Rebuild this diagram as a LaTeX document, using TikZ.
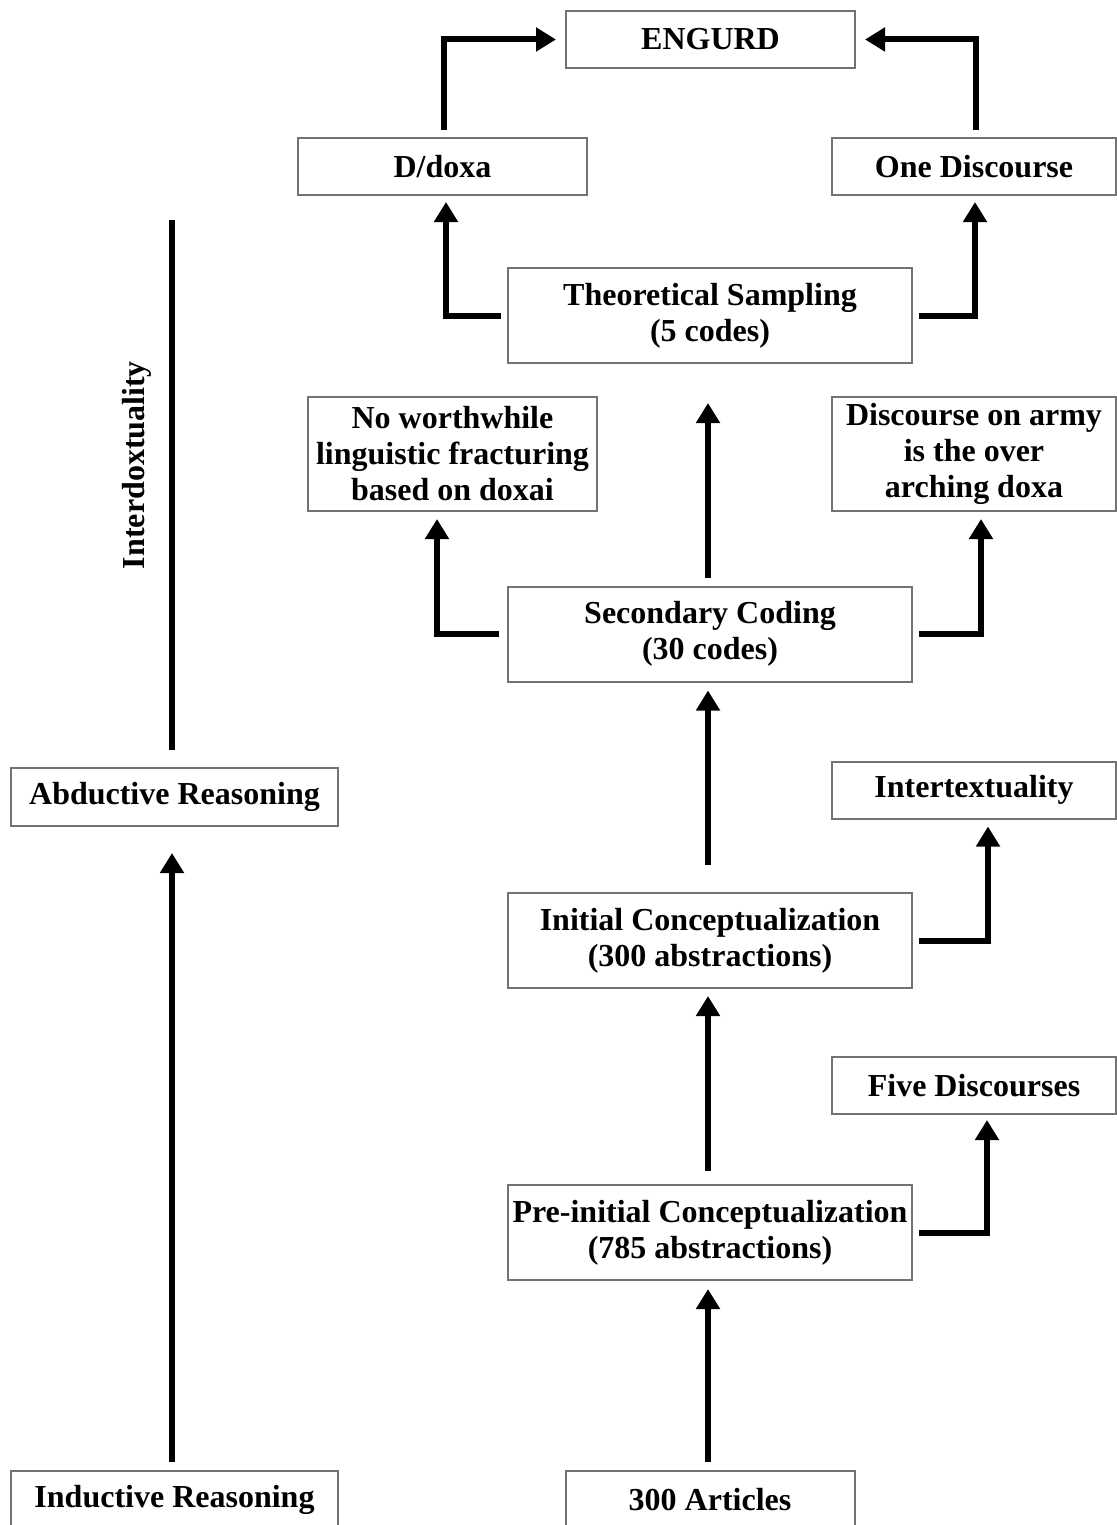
\documentclass[tikz,border=0pt]{standalone}
\usepackage{fontspec}
\setmainfont{Liberation Serif}
\usetikzlibrary{arrows.meta,calc}
\begin{document}
\begin{tikzpicture}[x=0.5pt,y=-0.5pt,
  box/.style={draw=black!55, line width=1pt, fill=white, align=center,
    inner sep=0pt, font=\fontsize{16}{18}\selectfont\bfseries},
  wide/.style={minimum width=202pt, minimum height=47.5pt},
  mid/.style={minimum width=144.5pt, minimum height=28.5pt},
  side/.style={minimum width=142pt, minimum height=28.5pt},
  tall/.style={minimum height=57pt},
  lbl/.style={font=\fontsize{16}{18}\selectfont\bfseries, inner sep=0pt},
  conn/.style={line width=3pt},
  arr/.style={conn, -{Triangle[length=10pt,width=11.5pt]}},
]
\useasboundingbox (0,0) rectangle (1117,1525);

% central column
\node[box, mid] (engurd) at (710.5,39.5) {ENGURD};
\node[box, wide] (theo) at (710,315.5) {Theoretical Sampling\\(5 codes)};
\node[box, wide] (sec) at (710,634) {Secondary Coding\\(30 codes)};
\node[box, wide] (init) at (710,940.5) {Initial Conceptualization\\(300 abstractions)};
\node[box, wide] (pre) at (710,1232.5) {Pre-initial Conceptualization\\(785 abstractions)};
\node[box, mid] (art) at (710,1499.5) {300 Articles};

% side outcomes
\node[box, mid] (ddoxa) at (442.5,166.5) {D/doxa};
\node[box, side] (onedis) at (974,166.5) {One Discourse};
\node[box, mid, tall] (nowort) at (452.5,454) {No worthwhile\\linguistic fracturing\\based on doxai};
\node[box, side, tall] (army) at (974,454) {Discourse on army\\is the over\\arching doxa};
\node[box, side] (intert) at (974,790) {Intertextuality};
\node[box, side] (five) at (974,1085.5) {Five Discourses};

% reasoning column
\node[box, minimum width=163.5pt, minimum height=29pt] (abd) at (174.5,797) {Abductive Reasoning};
\node[box, minimum width=163.5pt, minimum height=28.5pt] (ind) at (174.5,1499.5) {Inductive Reasoning};
\coordinate (itop) at (172,220);
\node[lbl, rotate=90] (interdox) at (137,465) {Interdoxtuality};

% main flow
\draw[arr] ([xshift=-1pt,yshift=4pt]art.north) -- ([xshift=-1pt,yshift=-4pt]pre.south);
\draw[arr] ([xshift=-1pt,yshift=6.5pt]pre.north) -- ([xshift=-1pt,yshift=-3.5pt]init.south);
\draw[arr] ([xshift=-1pt,yshift=13.5pt]init.north) -- ([xshift=-1pt,yshift=-4pt]sec.south);
\draw[arr] ([xshift=-1pt,yshift=4pt]sec.north) -- ([xshift=-1pt,yshift=-19.5pt]theo.south);

% branches
\draw[arr] ([xshift=3pt]pre.east) -| ([xshift=6.5pt,yshift=-2.5pt]five.south);
\draw[arr] ([xshift=3pt]init.east) -| ([xshift=7pt,yshift=-3.5pt]intert.south);
\draw[arr] ([xshift=-4pt]sec.west) -| ([xshift=-7.75pt,yshift=-3.5pt]nowort.south);
\draw[arr] ([xshift=3pt]sec.east) -| ([xshift=3.5pt,yshift=-3.5pt]army.south);
\draw[arr] ([xshift=-3pt]theo.west) -| ([xshift=1.75pt,yshift=-3pt]ddoxa.south);
\draw[arr] ([xshift=3pt]theo.east) -| ([xshift=0.5pt,yshift=-3pt]onedis.south);
\draw[arr] ([xshift=0.75pt,yshift=3.5pt]ddoxa.north) |- ([xshift=-4.5pt]engurd.west);
\draw[arr] ([xshift=1pt,yshift=3.5pt]onedis.north) |- ([xshift=4.5pt]engurd.east);

% reasoning
\draw[arr] ([xshift=-1.25pt,yshift=4pt]ind.north) -- ([xshift=-1.25pt,yshift=-13pt]abd.south);
\draw[conn] (itop) -- ($(itop |- abd.north)+(0,-17)$);
\end{tikzpicture}
\end{document}
